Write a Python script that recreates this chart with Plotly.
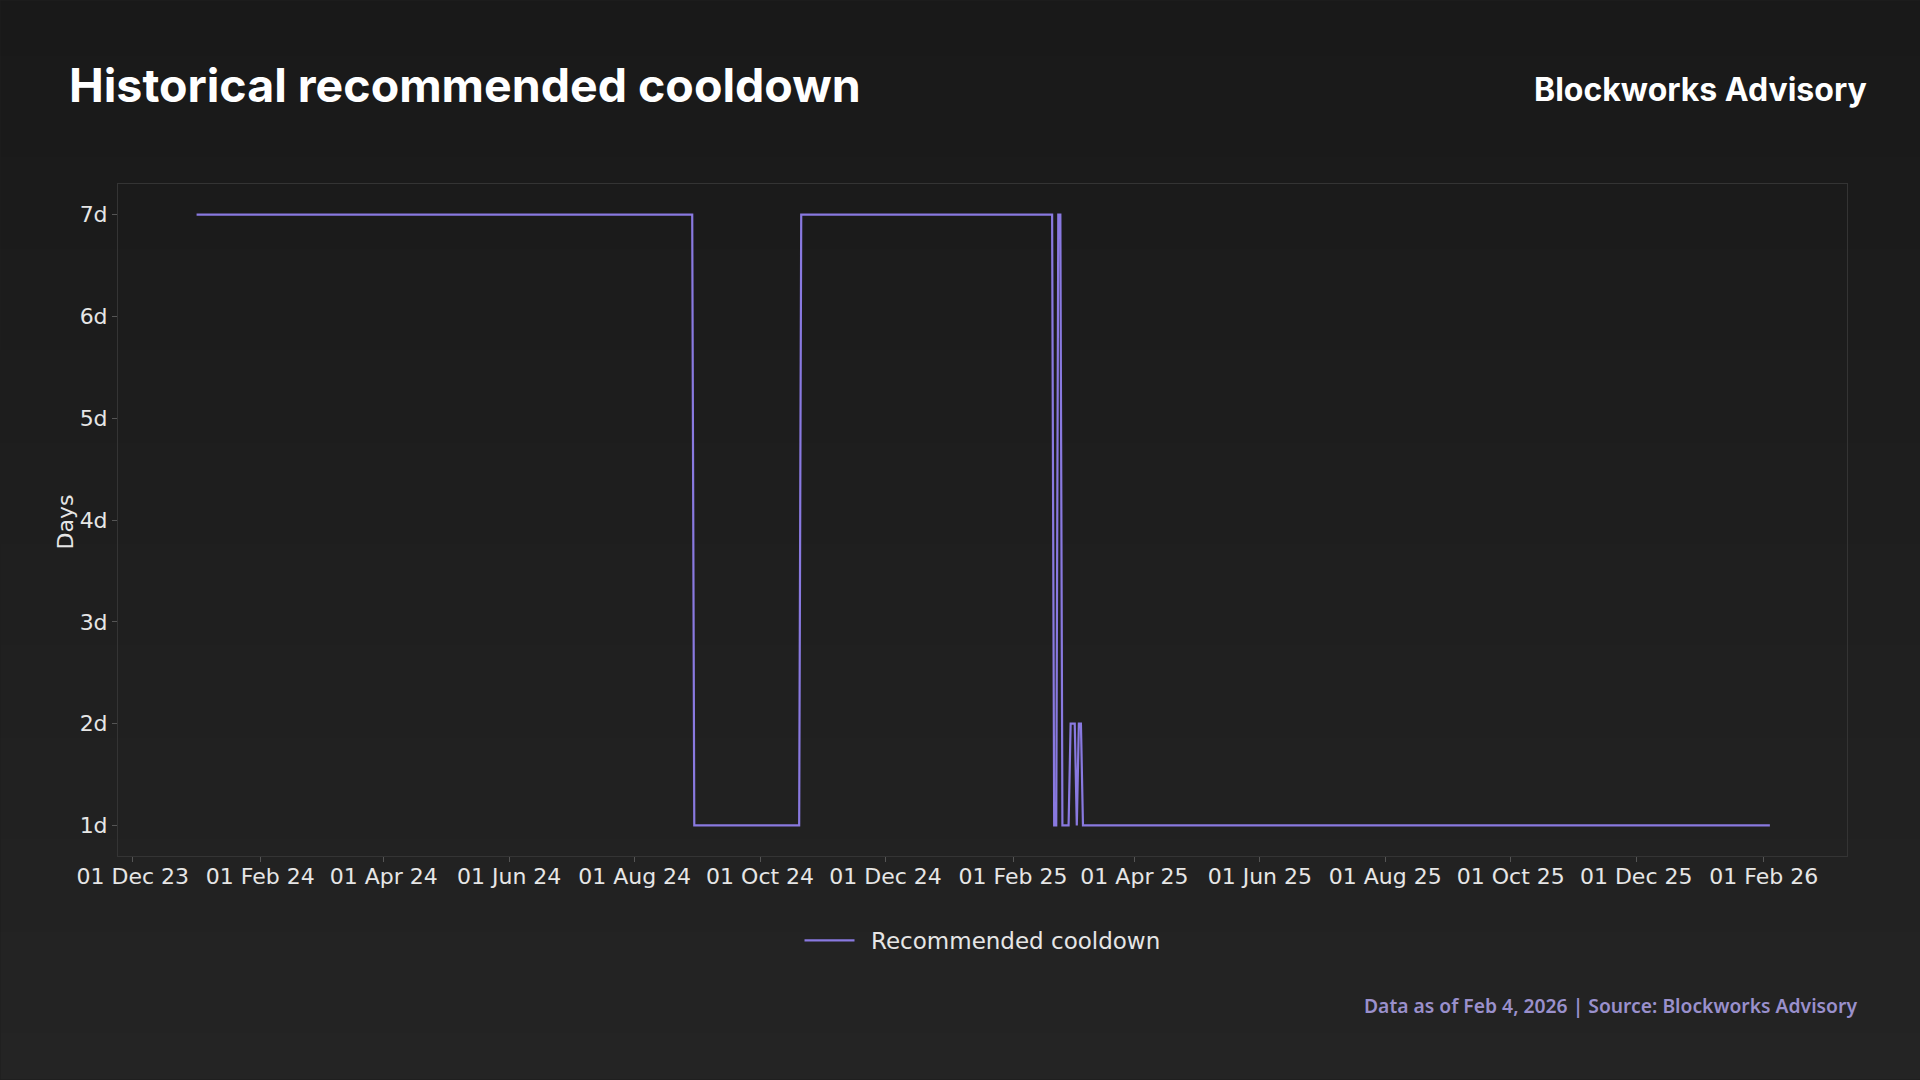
import base64
import struct
import zlib

import plotly.graph_objects as go

# ---------------- data ----------------
dates = [
    "2024-01-01", "2024-08-29", "2024-08-30", "2024-10-20", "2024-10-21",
    "2025-02-20", "2025-02-21", "2025-02-22", "2025-02-23", "2025-02-24",
    "2025-02-25", "2025-02-28", "2025-03-01", "2025-03-03", "2025-03-04",
    "2025-03-05", "2025-03-06", "2025-03-07", "2026-02-04",
]
cooldown_days = [7, 7, 1, 1, 7, 7, 1, 1, 7, 7, 1, 1, 2, 2, 1, 2, 2, 1, 1]

x_tick_vals = [
    "2023-12-01", "2024-02-01", "2024-04-01", "2024-06-01", "2024-08-01",
    "2024-10-01", "2024-12-01", "2025-02-01", "2025-04-01", "2025-06-01",
    "2025-08-01", "2025-10-01", "2025-12-01", "2026-02-01",
]
y_tick_vals = [1, 2, 3, 4, 5, 6, 7]
y_tick_text = ["1d", "2d", "3d", "4d", "5d", "6d", "7d"]

TITLE = "Historical recommended cooldown"
BRAND = "Blockworks Advisory"
FOOTER = "Data as of Feb 4, 2026 | Source: Blockworks Advisory"
SERIES_NAME = "Recommended cooldown"
Y_TITLE = "Days"

# ---------------- layout geometry (pixels) ----------------
W, H = 1920, 1080
L, R, T, B = 117.5, 1846.7, 183.5, 856.5
PW, PH = R - L, B - T


def px(x):
    return (x - L) / PW


def py(y):
    return (B - y) / PH


# vertical background gradient as tiny PNG
def gradient_png(top, bottom, n=128):
    rows = b""
    for i in range(n):
        t = i / (n - 1)
        c = bytes(int(round(a + (b - a) * t)) for a, b in zip(top, bottom))
        rows += b"\x00" + c

    def chunk(tag, data):
        return (struct.pack(">I", len(data)) + tag + data
                + struct.pack(">I", zlib.crc32(tag + data) & 0xFFFFFFFF))
    png = b"\x89PNG\r\n\x1a\n"
    png += chunk(b"IHDR", struct.pack(">IIBBBBB", 1, n, 8, 2, 0, 0, 0))
    png += chunk(b"IDAT", zlib.compress(rows))
    png += chunk(b"IEND", b"")
    return "data:image/png;base64," + base64.b64encode(png).decode()


bg = gradient_png((25, 25, 25), (36, 36, 36))

LINE_COLOR = "#8979E0"
TEXT_COLOR = "#E6E6E6"
TICK_FONT = dict(family="DejaVu Sans", size=22, color=TEXT_COLOR)

fig = go.Figure()
fig.add_trace(go.Scatter(
    x=dates, y=cooldown_days, mode="lines", name="\u2002" + SERIES_NAME,
    line=dict(color=LINE_COLOR, width=2.2),
))

fig.update_layout(
    width=W, height=H,
    margin=dict(l=L, r=W - R, t=T, b=H - B, pad=0),
    paper_bgcolor="#1E1E1E",
    plot_bgcolor="rgba(0,0,0,0)",
    showlegend=True,
    legend=dict(
        orientation="h", x=0.5, xanchor="center", y=py(941), yanchor="middle",
        font=dict(family="DejaVu Sans", size=23, color=TEXT_COLOR),
        bgcolor="rgba(0,0,0,0)", itemwidth=50,
    ),
    xaxis=dict(
        type="date",
        range=["2023-11-23 19:00", "2026-03-13 12:00"],
        tickvals=x_tick_vals, tickformat="%d %b %y",
        tickfont=TICK_FONT, showgrid=False, zeroline=False,
        ticks="outside", ticklen=5, tickcolor="#555555", tickwidth=1,
        ticklabelstandoff=-4,
        showline=True, linecolor="#343434", linewidth=1, mirror=True,
    ),
    yaxis=dict(
        range=[0.7, 7.3], tickvals=y_tick_vals, ticktext=y_tick_text,
        tickfont=TICK_FONT, showgrid=False, zeroline=False,
        ticks="outside", ticklen=5, tickcolor="#555555", tickwidth=1,
        showline=True, linecolor="#343434", linewidth=1, mirror=True,
    ),
    images=[dict(
        source=bg, xref="paper", yref="paper",
        x=px(0), y=py(0), sizex=W / PW, sizey=H / PH,
        xanchor="left", yanchor="top", sizing="stretch", layer="below",
    )],
    annotations=[
        dict(text=f"<b>{TITLE}</b>", xref="paper", yref="paper",
             x=px(66), y=py(84), xanchor="left", yanchor="middle", showarrow=False,
             font=dict(family="Inter", size=46.5, color="#FFFFFF")),
        dict(text=f"<b>{BRAND}</b>", xref="paper", yref="paper",
             x=px(1868.5), y=py(89), xanchor="right", yanchor="middle", showarrow=False,
             font=dict(family="Inter", size=32, color="#FFFFFF")),
        dict(text=FOOTER, xref="paper", yref="paper",
             x=px(1859), y=py(1006), xanchor="right", yanchor="middle", showarrow=False,
             font=dict(family="Noto Sans", size=19.3, color="#9A90CC", weight=600)),
        dict(text=Y_TITLE, xref="paper", yref="paper", textangle=-90,
             x=px(65), y=py(522), xanchor="center", yanchor="middle", showarrow=False,
             font=dict(family="DejaVu Sans", size=22, color=TEXT_COLOR)),
    ],
)

fig.write_html(
    "out.html",
    config={"displayModeBar": False},
    post_script="document.body.style.margin='0';document.body.style.overflow='hidden';"
                "document.body.style.background='#1E1E1E';",
)
